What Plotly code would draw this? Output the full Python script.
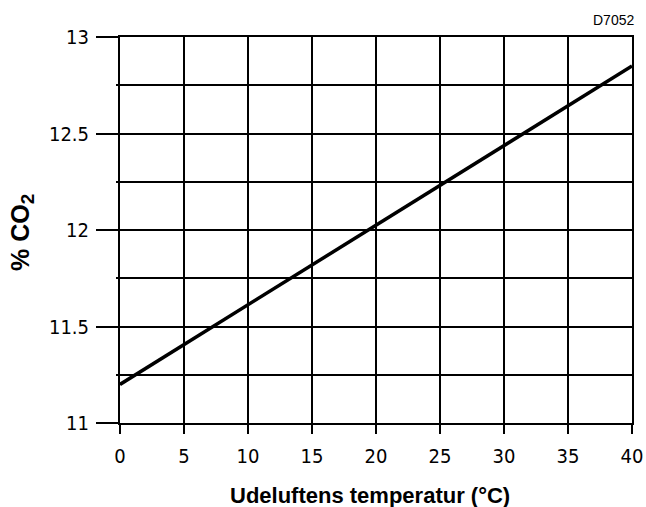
import plotly.graph_objects as go

temps = [0, 40]
co2 = [11.2, 12.85]
x_ticks = [0, 5, 10, 15, 20, 25, 30, 35, 40]
y_ticks = [11, 11.5, 12, 12.5, 13]
y_labels = ["11", "11.5", "12", "12.5", "13"]

tickfont = dict(family="DejaVu Sans Condensed, Liberation Sans Narrow, Arial Narrow, Liberation Sans, sans-serif", size=20, color="black")
titlefont = dict(family="Liberation Sans, Arial, sans-serif", size=22, color="black")

fig = go.Figure()
fig.add_trace(go.Scatter(x=temps, y=co2, mode="lines", line=dict(color="black", width=3.5), showlegend=False, hoverinfo="skip"))

fig.update_layout(
    width=646, height=507,
    margin=dict(l=120, r=14, t=37, b=84, autoexpand=False),
    paper_bgcolor="white", plot_bgcolor="white",
    xaxis=dict(
        range=[0, 40], tickvals=x_ticks, ticktext=[str(v) for v in x_ticks],
        showgrid=True, gridcolor="black", gridwidth=2,
        showline=True, linecolor="black", linewidth=2, mirror=True,
        ticks="outside", ticklen=9, tickwidth=2, tickcolor="black",
        tickfont=tickfont, zeroline=False, automargin=False, ticklabelstandoff=5,
    ),
    yaxis=dict(
        range=[11, 13], tickvals=y_ticks, ticktext=y_labels,
        showgrid=True, gridcolor="black", gridwidth=2,
        showline=True, linecolor="black", linewidth=2, mirror=True,
        ticks="outside", ticklen=22, tickwidth=2, tickcolor="black",
        tickfont=tickfont, zeroline=False, automargin=False, ticklabelstandoff=3,
        minor=dict(dtick=0.25, tick0=11, showgrid=True, gridcolor="black", gridwidth=2,
                   ticks="outside", ticklen=2, tickwidth=2, tickcolor="black"),
    ),
    annotations=[
        dict(text="D7052", x=1, y=1, xref="paper", yref="paper", xanchor="right", yanchor="middle",
             xshift=4, yshift=17, showarrow=False,
             font=dict(family="Liberation Sans, Arial, sans-serif", size=14, color="black")),
        dict(text="<b>Udeluftens temperatur (°C)</b>", x=0.5, y=0, xref="paper", yref="paper",
             xanchor="center", yanchor="middle", xshift=-6, yshift=-72, showarrow=False, font=titlefont),
        dict(text="<b>% CO<sub><span style='font-size:19px'>2</span></sub></b>", x=0, y=0.5, xref="paper", yref="paper",
             xanchor="center", yanchor="middle", xshift=-98, yshift=-3, textangle=-90, showarrow=False,
             font=dict(family="Liberation Sans, Arial, sans-serif", size=25, color="black")),
    ],
)

fig.write_html("out.html", config={"displayModeBar": False},
               post_script="document.body.style.margin='0';document.documentElement.style.overflow='hidden';")
